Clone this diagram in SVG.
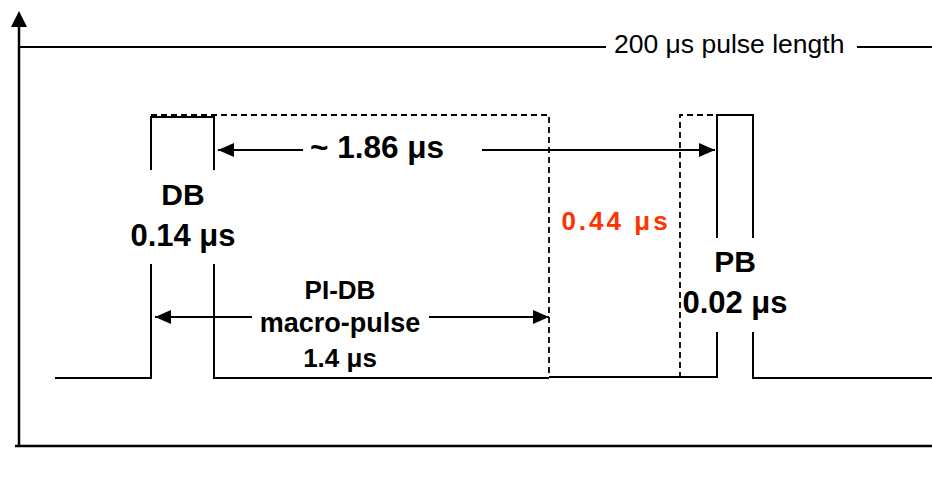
<svg xmlns="http://www.w3.org/2000/svg" width="932" height="478" viewBox="0 0 932 478">
<style>
.ln{fill:none;stroke:#000;stroke-width:2}
.ax{fill:none;stroke:#000;stroke-width:2.5}
.ds{fill:none;stroke:#000;stroke-width:1.8;stroke-dasharray:6,4}
.b{font-family:"Liberation Sans",Arial,sans-serif;font-weight:bold;fill:#000;text-anchor:middle}
.r{font-family:"Liberation Sans",Arial,sans-serif;fill:#000}
.red{font-family:"Liberation Sans",Arial,sans-serif;font-weight:bold;fill:#FF3300;text-anchor:middle;letter-spacing:3px}
</style>
<defs>
<marker id="ah" viewBox="0 0 16 14" refX="16" refY="7" markerWidth="16" markerHeight="14" markerUnits="userSpaceOnUse" orient="auto-start-reverse">
<path d="M0,0 L16,7 L0,14 Z" fill="#000"/>
</marker>
</defs>
<g id="axes">
<path class="ax" d="M19,446 V26 M15,446 H932"/>
<path d="M11,27 L19,11 L27,27 Z" fill="#000"/>
</g>
<g id="pulse-length">
<path class="ln" d="M20,47 H606 M857,47 H932"/>
<text class="r" x="614" y="53" font-size="26.5">200 μs pulse length</text>
</g>
<g id="signal">
<path class="ln" d="M55,378 H151 V264 M151,170 V117 H214 V170 M214,264 V378 H549 M549,377 H717 V332 M717,238 V115 H753 V238 M753,332 V378 H932"/>
<path class="ds" d="M151,115 H549 V378 M680,378 V115 H717"/>
</g>
<g id="connectors">
<path class="ln" d="M303,150 H218" marker-end="url(#ah)"/>
<path class="ln" d="M482,150 H715" marker-end="url(#ah)"/>
<path class="ln" d="M252,317 H155" marker-end="url(#ah)"/>
<path class="ln" d="M429,317 H549" marker-end="url(#ah)"/>
</g>
<g id="label-186">
<text class="b" x="377" y="158" font-size="31.5">~ 1.86 μs</text>
</g>
<g id="DB">
<text class="b" x="183" y="205" font-size="30">DB</text>
<text class="b" x="183" y="246" font-size="31">0.14 μs</text>
</g>
<g id="PI-DB">
<text class="b" x="340" y="299" font-size="26">PI-DB</text>
<text class="b" x="340" y="332" font-size="27">macro-pulse</text>
<text class="b" x="340" y="367" font-size="26">1.4 μs</text>
</g>
<g id="gap">
<text class="red" x="616" y="230" font-size="26">0.44 μs</text>
</g>
<g id="PB">
<text class="b" x="735" y="272" font-size="30">PB</text>
<text class="b" x="735" y="313" font-size="31">0.02 μs</text>
</g>
</svg>
